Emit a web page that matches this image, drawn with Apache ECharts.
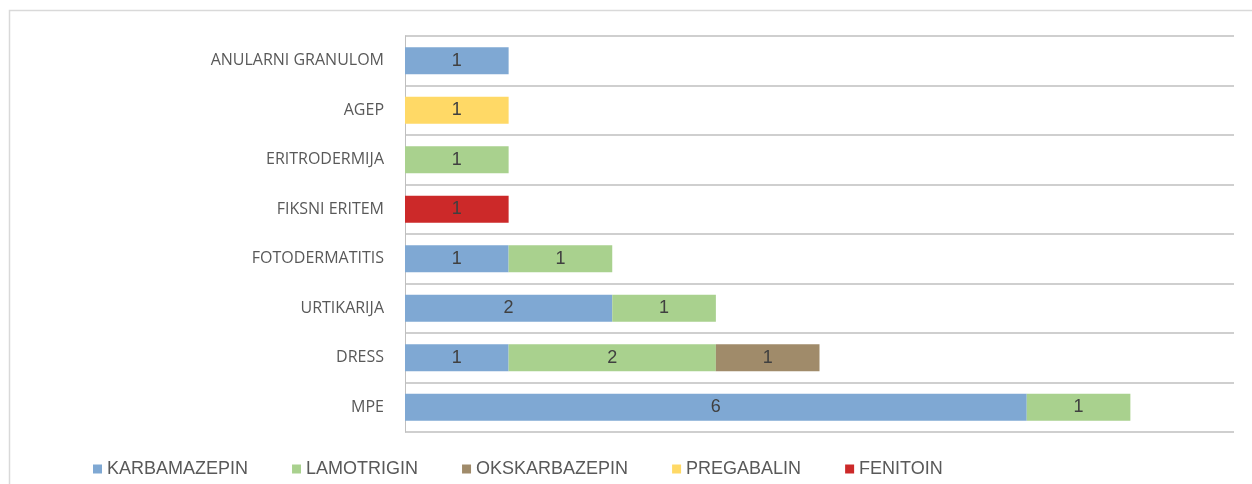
<!DOCTYPE html>
<html>
<head>
<meta charset="utf-8">
<style>html,body{margin:0;padding:0;background:#fff;}#c{width:1252px;height:484px;}</style>
<script src="https://cdn.jsdelivr.net/npm/echarts@6/dist/echarts.min.js"></script>
</head>
<body>
<div id="c"></div>
<script>
const categories = ['MPE', 'DRESS', 'URTIKARIJA', 'FOTODERMATITIS', 'FIKSNI ERITEM', 'ERITRODERMIJA', 'AGEP', 'ANULARNI GRANULOM'];
const seriesNames = ['KARBAMAZEPIN', 'LAMOTRIGIN', 'OKSKARBAZEPIN', 'PREGABALIN', 'FENITOIN'];
const karbamazepin = [6, 1, 2, 1, 0, 0, 0, 1];
const lamotrigin = [1, 2, 1, 1, 0, 1, 0, 0];
const okskarbazepin = [0, 1, 0, 0, 0, 0, 0, 0];
const pregabalin = [0, 0, 0, 0, 0, 0, 1, 0];
const fenitoin = [0, 0, 0, 0, 1, 0, 0, 0];
const colors = ['#7fa8d3', '#a9d18e', '#a08b6a', '#ffd966', '#cc2929'];
const values = [karbamazepin, lamotrigin, okskarbazepin, pregabalin, fenitoin];

const chart = echarts.init(document.getElementById('c'));
chart.setOption({
  animation: false,
  graphic: [{
    type: 'rect', shape: {x: 9.5, y: 10.5, width: 1400, height: 700},
    style: {fill: 'none', stroke: '#d9d9d9', lineWidth: 1.5}, silent: true, z: -10
  }],
  grid: {left: 405, right: 18, top: 36, bottom: 52, containLabel: false},
  legend: {
    bottom: 1, left: 88, itemWidth: 9, itemHeight: 9, itemGap: 44,
    icon: 'rect',
    textStyle: {color: '#595959', fontSize: 18, fontFamily: 'Liberation Sans, sans-serif'},
    data: seriesNames
  },
  xAxis: {
    type: 'value', min: 0, max: 8, interval: 1,
    axisLabel: {show: false}, axisLine: {show: false}, axisTick: {show: false},
    splitLine: {show: false}
  },
  yAxis: {
    type: 'category', data: categories,
    axisLine: {show: true, lineStyle: {color: '#bfbfbf', width: 1}},
    axisTick: {show: false},
    splitLine: {show: true, lineStyle: {color: '#bfbfbf', width: 1.5}},
    axisLabel: {color: '#595959', fontSize: 16, margin: 21, fontFamily: 'Open Sans, DejaVu Sans, sans-serif'}
  },
  series: seriesNames.map((n, i) => ({
    name: n, type: 'bar', stack: 'total', data: values[i],
    barCategoryGap: '45%',
    itemStyle: {color: colors[i]},
    label: {
      show: true, position: 'inside', color: '#404040', fontSize: 18,
      fontFamily: 'Liberation Sans, sans-serif',
      formatter: p => p.value ? String(p.value) : ''
    }
  }))
});
</script>
</body>
</html>
